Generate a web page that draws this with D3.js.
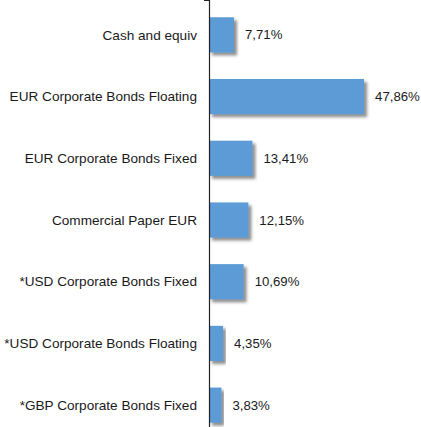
<html>
<head>
  <meta charset="utf-8">
  <script src="https://cdnjs.cloudflare.com/ajax/libs/d3/7.8.5/d3.min.js"></script>
  <style>
    body { margin: 0; background: #fff; }
    text { font-family: "Liberation Sans", Arial, sans-serif; font-size: 13.6px; fill: #1a1a1a; }
    text.val { font-size: 13.2px; }
  </style>
</head>
<body>
  <div id="viz"></div>
  <script>
    var categories = ["Cash and equiv", "EUR Corporate Bonds Floating", "EUR Corporate Bonds Fixed",
                      "Commercial Paper EUR", "*USD Corporate Bonds Fixed", "*USD Corporate Bonds Floating",
                      "*GBP Corporate Bonds Fixed"];
    var values = [7.71, 47.86, 13.41, 12.15, 10.69, 4.35, 3.83];
    var valueLabels = ["7,71%", "47,86%", "13,41%", "12,15%", "10,69%", "4,35%", "3,83%"];

    var width = 421, height = 427,
        axisX = 209;

    var svg = d3.select("#viz").append("svg")
        .attr("width", width)
        .attr("height", height);

    // drop shadow like the spreadsheet bars
    var defs = svg.append("defs");
    var f = defs.append("filter").attr("id", "shadow")
        .attr("x", "-10%").attr("y", "-10%").attr("width", "130%").attr("height", "140%");
    f.append("feDropShadow")
        .attr("dx", 3).attr("dy", 3).attr("stdDeviation", 1.6)
        .attr("flood-color", "#444").attr("flood-opacity", 0.6);

    var x = d3.scaleLinear().domain([0, 50]).range([axisX, axisX + 162]);
    var y = d3.scaleBand().domain(categories).range([4, 436])
        .paddingInner(0.43).paddingOuter(0.215);

    var data = categories.map(function (c, i) { return { cat: c, val: values[i], lab: valueLabels[i] }; });

    // bars
    svg.selectAll("rect.bar")
        .data(data)
        .enter().append("rect")
        .attr("class", "bar")
        .attr("x", x(0))
        .attr("y", function (d) { return y(d.cat); })
        .attr("width", function (d) { return x(d.val) - x(0); })
        .attr("height", y.bandwidth())
        .style("fill", "#5b9bd5")
        .attr("filter", "url(#shadow)");

    // axis line and ticks at the band boundaries
    var step = y.step(), top = y.range()[0];
    svg.append("line")
        .attr("x1", axisX + 0.5).attr("x2", axisX + 0.5)
        .attr("y1", top).attr("y2", height)
        .style("stroke", "#222").style("stroke-width", 1.2);
    svg.selectAll("line.tick")
        .data(d3.range(categories.length + 1))
        .enter().append("line")
        .attr("class", "tick")
        .attr("x1", axisX - 5).attr("x2", axisX + 0.5)
        .attr("y1", function (i) { return top + i * step; })
        .attr("y2", function (i) { return top + i * step; })
        .style("stroke", "#222").style("stroke-width", 1.2);

    // category labels
    svg.selectAll("text.cat")
        .data(data)
        .enter().append("text")
        .attr("class", "cat")
        .attr("x", 197)
        .attr("y", function (d) { return y(d.cat) + y.bandwidth() / 2; })
        .attr("dy", "0.35em")
        .style("text-anchor", "end")
        .text(function (d) { return d.cat; });

    // value labels
    svg.selectAll("text.val")
        .data(data)
        .enter().append("text")
        .attr("class", "val")
        .attr("x", function (d) { return x(d.val) + 11; })
        .attr("y", function (d) { return y(d.cat) + y.bandwidth() / 2; })
        .attr("dy", "0.35em")
        .text(function (d) { return d.lab; });
  </script>
</body>
</html>
